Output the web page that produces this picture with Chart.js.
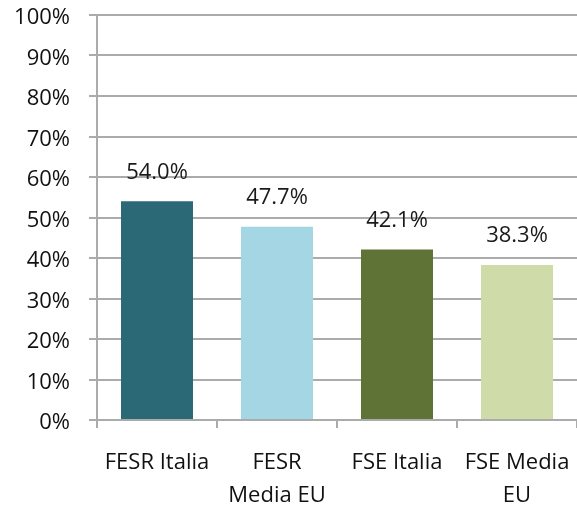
<!DOCTYPE html>
<html>
<head>
<meta charset="utf-8">
<script src="https://cdn.jsdelivr.net/npm/chart.js@4/dist/chart.umd.min.js"></script>
<style>
  html, body { margin: 0; padding: 0; background: #fff; }
  #wrap { width: 577px; height: 507px; position: relative; }
</style>
</head>
<body>
<div id="wrap"><canvas id="c" width="577" height="507"></canvas></div>
<script>
const categories = [["FESR Italia"], ["FESR", "Media EU"], ["FSE Italia"], ["FSE Media", "EU"]];
const values = [54.0, 47.7, 42.1, 38.3];
const barColors = ["#2b6976", "#a5d6e4", "#5f7336", "#cfdca9"];
const yMin = 0, yMax = 100, yStep = 10;

const FONT = "'Open Sans', 'Liberation Sans', sans-serif";
const GRID = "#ababab";

const valueLabels = {
  id: "valueLabels",
  afterDatasetsDraw(chart) {
    const ctx = chart.ctx;
    const meta = chart.getDatasetMeta(0);
    ctx.save();
    ctx.font = "22px " + FONT;
    ctx.fillStyle = "#1a1a1a";
    ctx.textAlign = "center";
    ctx.textBaseline = "middle";
    meta.data.forEach((bar, i) => {
      ctx.fillText(values[i].toFixed(1) + "%", bar.x, bar.y - 29);
    });
    ctx.restore();
  }
};

new Chart(document.getElementById("c"), {
  type: "bar",
  data: {
    labels: categories,
    datasets: [{
      data: values,
      backgroundColor: barColors,
      borderWidth: 0,
      barPercentage: 0.6,
      categoryPercentage: 1.0
    }]
  },
  options: {
    responsive: false,
    animation: false,
    devicePixelRatio: 1,
    layout: { padding: { top: 15, right: 0, bottom: 0, left: 0 } },
    plugins: { legend: { display: false }, tooltip: { enabled: false } },
    scales: {
      x: {
        offset: true,
        grid: { display: true, drawOnChartArea: false, drawTicks: true, tickLength: 8, color: GRID, lineWidth: 2, offset: true },
        border: { display: true, color: GRID, width: 2 },
        ticks: { color: "#111", font: { family: FONT, size: 22, lineHeight: 1.5 }, padding: 18, maxRotation: 0, autoSkip: false },
        afterFit(scale) { scale.height = 87; scale.paddingLeft = 0; scale.paddingRight = 0; }
      },
      y: {
        min: yMin, max: yMax,
        grid: { color: GRID, lineWidth: 2, tickLength: 8, drawTicks: true },
        border: { display: true, color: GRID, width: 2 },
        ticks: {
          stepSize: yStep,
          color: "#111",
          font: { family: FONT, size: 22 },
          padding: 19,
          labelOffset: 3,
          callback: v => v + "%"
        },
        afterFit(scale) { scale.width = 97; scale.paddingTop = 0; scale.paddingBottom = 0; }
      }
    }
  },
  plugins: [valueLabels]
});
</script>
</body>
</html>
